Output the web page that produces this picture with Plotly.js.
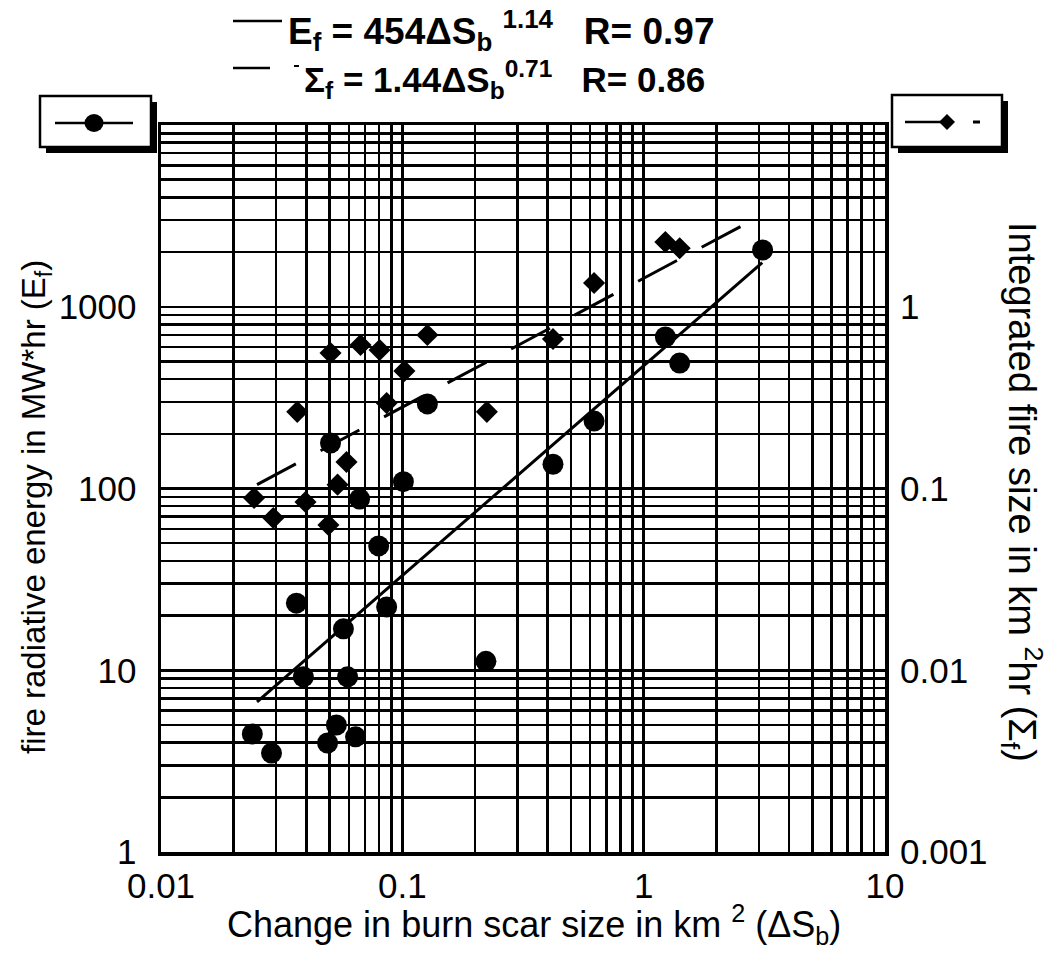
<!DOCTYPE html>
<html>
<head>
<meta charset="utf-8">
<script src="https://cdn.plot.ly/plotly-3.0.1.min.js"></script>
<style>html,body{margin:0;padding:0;background:#fff;}#chart{width:1050px;height:964px;}</style>
</head>
<body>
<div id="chart"></div>
<script>
// ---- data ----
// Fire radiative energy E_f (MW*hr) vs change in burn scar size (km^2)
const efX = [0.0239, 0.0287, 0.0364, 0.0389, 0.049, 0.0533, 0.064, 0.057, 0.0593, 0.0504, 0.0665,
             0.0798, 0.0861, 0.101, 0.127, 0.222, 0.421, 0.623, 1.23, 1.41, 3.11];
const efY = [4.46, 3.5, 23.4, 9.2, 3.98, 5.0, 4.3, 16.9, 9.2, 178, 87.5,
             48.3, 22.3, 109, 292, 11.2, 136, 235, 682, 490, 2052];
// Integrated fire size Sigma_f (km^2 hr) vs change in burn scar size (km^2)
const sfX = [0.0243, 0.0292, 0.0367, 0.0397, 0.0494, 0.0504, 0.0539, 0.0587, 0.0671, 0.0805,
             0.0861, 0.102, 0.127, 0.224, 0.421, 0.623, 1.23, 1.41];
const sfY = [0.0887, 0.0688, 0.264, 0.0843, 0.063, 0.557, 0.105, 0.140, 0.616, 0.578,
             0.295, 0.443, 0.699, 0.264, 0.665, 1.35, 2.27, 2.10];
// fitted power-law lines (end points)
const efFitX = [0.025, 3.1];
const efFitY = [6.7, 1750];
const sfFitX = [0.025, 3.1];
const sfFitY = [0.105, 3.2];
// tick labels
const xTickVals = [0.01, 0.1, 1, 10];
const xTickText = ['0.01', '0.1', '1', '10'];
const yTickVals = [1, 10, 100, 1000];
const yTickText = ['1', '10', '100', '1000'];
const y2TickVals = [0.001, 0.01, 0.1, 1];
const y2TickText = ['0.001', '0.01', '0.1', '1'];

// ---- layout geometry ----
const W = 1050, H = 964;
const L = 161, R = 885, T = 125, B = 852;
const px = x => (x - L) / (R - L);
const py = y => (B - y) / (B - T);
const FONT = 'Liberation Sans, Arial, Helvetica, sans-serif';
const SP = '\u00A0';

const traces = [
  {x: efFitX, y: efFitY, mode: 'lines', line: {color: '#000', width: 3}, hoverinfo: 'skip', showlegend: false},
  {x: sfFitX, y: sfFitY, yaxis: 'y2', mode: 'lines', line: {color: '#000', width: 3, dash: '44px,28px'}, hoverinfo: 'skip', showlegend: false},
  {x: efX, y: efY, mode: 'markers', marker: {symbol: 'circle', size: 21, color: '#000'}, showlegend: false},
  {x: sfX, y: sfY, yaxis: 'y2', mode: 'markers', marker: {symbol: 'diamond', size: 17, color: '#000'}, showlegend: false}
];

function box(x0, y0, x1, y1, off) {
  return [
    {type: 'rect', xref: 'paper', yref: 'paper', x0: px(x0 + off), x1: px(x1 + off), y0: py(y1 + off), y1: py(y0 + off),
     fillcolor: '#000', line: {width: 0}, layer: 'above'},
    {type: 'rect', xref: 'paper', yref: 'paper', x0: px(x0), x1: px(x1), y0: py(y1), y1: py(y0),
     fillcolor: '#fff', line: {color: '#000', width: 2.5}, layer: 'above'}
  ];
}
const shapes = [].concat(
  box(40, 96, 151, 147, 6),
  box(892, 95, 1002, 147, 6),
  [
    {type: 'line', xref: 'paper', yref: 'paper', x0: px(55), x1: px(133), y0: py(123), y1: py(123), line: {color: '#000', width: 2.5}, layer: 'above'},
    {type: 'circle', xref: 'paper', yref: 'paper', xsizemode: 'pixel', ysizemode: 'pixel', xanchor: px(94), yanchor: py(123),
     x0: -9.5, x1: 9.5, y0: -9, y1: 9, fillcolor: '#000', line: {width: 0}, layer: 'above'},
    {type: 'line', xref: 'paper', yref: 'paper', x0: px(905), x1: px(942), y0: py(122), y1: py(122), line: {color: '#000', width: 2.5}, layer: 'above'},
    {type: 'path', xref: 'paper', yref: 'paper', xsizemode: 'pixel', ysizemode: 'pixel', xanchor: px(947), yanchor: py(122),
     path: 'M -8 0 L 0 8 L 8 0 L 0 -8 Z', fillcolor: '#000', line: {width: 0}, layer: 'above'},
    {type: 'line', xref: 'paper', yref: 'paper', x0: px(973), x1: px(980), y0: py(122), y1: py(122), line: {color: '#000', width: 3}, layer: 'above'},
    // title line samples
    {type: 'line', xref: 'paper', yref: 'paper', x0: px(233), x1: px(282), y0: py(21), y1: py(21), line: {color: '#000', width: 2.5}},
    {type: 'line', xref: 'paper', yref: 'paper', x0: px(233), x1: px(270), y0: py(68), y1: py(68), line: {color: '#000', width: 2.5}},
    {type: 'line', xref: 'paper', yref: 'paper', x0: px(294), x1: px(299), y0: py(66), y1: py(66), line: {color: '#000', width: 2}}
  ]
);

const annotations = [
  {xref: 'paper', yref: 'paper', x: px(286), y: py(30), xanchor: 'left', yanchor: 'middle', showarrow: false,
   text: '<b>E<sub>f</sub> = 454ΔS<sub>b</sub>' + SP + '<sup>1.14</sup>' + SP + SP + SP + 'R= 0.97</b>', font: {family: FONT, size: 37, color: '#000'}},
  {xref: 'paper', yref: 'paper', x: px(302), y: py(79), xanchor: 'left', yanchor: 'middle', showarrow: false,
   text: '<b>Σ<sub>f</sub> = 1.44ΔS<sub>b</sub><sup>0.71</sup>' + SP + SP + SP + 'R= 0.86</b>', font: {family: FONT, size: 35, color: '#000'}},
  {xref: 'paper', yref: 'paper', x: px(36), y: py(507), xanchor: 'center', yanchor: 'middle', showarrow: false, textangle: -90,
   text: 'fire radiative energy in MW*hr (E<sub>f</sub>)', font: {family: FONT, size: 33, color: '#000'}},
  {xref: 'paper', yref: 'paper', x: px(1022), y: py(492), xanchor: 'center', yanchor: 'middle', showarrow: false, textangle: 90,
   text: 'Integrated fire size in km <sup>2</sup>hr (Σ<sub>f</sub>)', font: {family: FONT, size: 38, color: '#000'}},
  {xref: 'paper', yref: 'paper', x: px(534), y: py(924), xanchor: 'center', yanchor: 'middle', showarrow: false,
   text: 'Change in burn scar size in km <sup>2</sup> (ΔS<sub>b</sub>)', font: {family: FONT, size: 36, color: '#000'}}
];

const gridStyle = {showgrid: true, gridcolor: '#000', gridwidth: 2.5};
const layout = {
  width: W, height: H,
  margin: {l: L, r: W - R, t: T, b: H - B, pad: 0},
  paper_bgcolor: '#fff', plot_bgcolor: '#fff',
  showlegend: false,
  font: {family: FONT, color: '#000'},
  xaxis: Object.assign({
    type: 'log', range: [-2, 1], tickmode: 'array', tickvals: xTickVals, ticktext: xTickText,
    ticks: '', tickfont: {size: 35}, showline: true, linecolor: '#000', linewidth: 3.5, mirror: true, zeroline: false,
    minor: {dtick: 'D1', showgrid: true, gridcolor: '#000', gridwidth: 2.5, ticks: ''}
  }, gridStyle),
  yaxis: Object.assign({
    type: 'log', range: [0, 4], tickmode: 'array', tickvals: yTickVals, ticktext: yTickText,
    ticks: '', tickfont: {size: 35}, ticklabelstandoff: 14, showline: true, linecolor: '#000', linewidth: 3.5, mirror: true, zeroline: false,
    minor: {dtick: 'D1', showgrid: true, gridcolor: '#000', gridwidth: 2.5, ticks: ''}
  }, gridStyle),
  yaxis2: {
    type: 'log', range: [-3, 1], overlaying: 'y', side: 'right', tickmode: 'array', tickvals: y2TickVals, ticktext: y2TickText,
    ticks: '', tickfont: {size: 35}, ticklabelstandoff: 14, showgrid: false, showline: false, zeroline: false
  },
  shapes: shapes,
  annotations: annotations
};

Plotly.newPlot('chart', traces, layout, {staticPlot: true});
</script>
</body>
</html>
